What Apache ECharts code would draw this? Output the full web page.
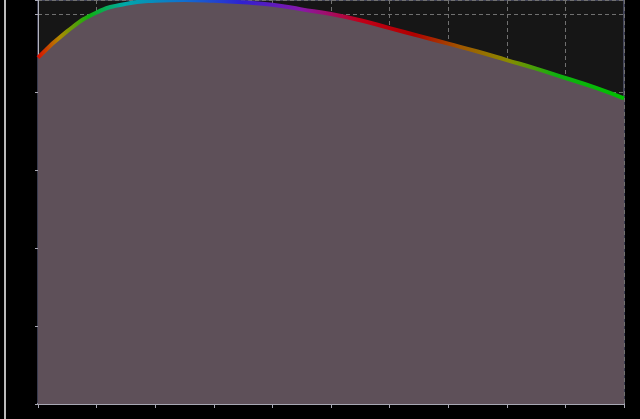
<!DOCTYPE html>
<html>
<head>
<meta charset="utf-8">
<script src="https://cdn.jsdelivr.net/npm/echarts@6/dist/echarts.min.js"></script>
<style>
  html, body {margin: 0; padding: 0; background: #000;}
  #chart {width: 640px; height: 419px;}
</style>
</head>
<body>
<div id="chart"></div>
<script>
const xValues = [0, 5, 10, 15, 20, 25, 30, 35, 40, 45, 50, 55, 60, 65, 70, 75, 80, 85, 90, 95, 100]
const yValues = [22.2, 23.9, 25.1, 25.65, 25.85, 25.9, 25.85, 25.75, 25.6, 25.3, 25.0, 24.6, 24.1, 23.6, 23.1, 22.6, 22.05, 21.5, 20.9, 20.3, 19.6]
// the picture is cut off just above the 25 line
const xTicks = {min: 0, max: 100, interval: 10}
const yTicks = {min: 0, max: 25.9, interval: 5}

const seriesData = xValues.map((x, i) => [x, yValues[i]])

const chart = echarts.init(document.getElementById('chart'))

const rainbow = new echarts.graphic.LinearGradient(0, 0, 1, 0, [
  {offset: 0, color: '#e00000'},
  {offset: 0.04, color: '#b08a00'},
  {offset: 0.09, color: '#10b010'},
  {offset: 0.15, color: '#00a8a8'},
  {offset: 0.25, color: '#1070d0'},
  {offset: 0.35, color: '#3020d0'},
  {offset: 0.45, color: '#8818a8'},
  {offset: 0.55, color: '#c00018'},
  {offset: 0.64, color: '#b00000'},
  {offset: 0.72, color: '#a05800'},
  {offset: 0.8, color: '#8a8a00'},
  {offset: 0.88, color: '#10b010'},
  {offset: 1, color: '#00c000'},
])

chart.setOption({
  backgroundColor: '#000',
  animation: false,
  graphic: [{
    type: 'line',
    shape: {x1: 5, y1: 0, x2: 5, y2: 419},
    style: {stroke: '#bbbbbb', lineWidth: 2},
  }],
  grid: {
    left: 38,
    right: 16,
    top: 0,
    bottom: 15,
    show: true,
    backgroundColor: '#161616',
    borderColor: '#70759a',
    borderWidth: 1,
  },
  xAxis: {
    type: 'value',
    min: xTicks.min,
    max: xTicks.max,
    interval: xTicks.interval,
    axisLine: {show: true, lineStyle: {color: '#a8a8b4', width: 2}},
    axisTick: {show: true, length: 4, lineStyle: {color: '#a8a8b4'}},
    axisLabel: {show: false},
    splitLine: {show: true, lineStyle: {color: '#707070', type: [4, 3]}},
  },
  yAxis: {
    type: 'value',
    min: yTicks.min,
    max: yTicks.max,
    interval: yTicks.interval,
    offset: 2,
    axisLine: {show: true, lineStyle: {color: '#b4b4bc', width: 1}},
    axisTick: {show: true, length: 3, lineStyle: {color: '#a8a8b4'}},
    axisLabel: {show: false},
    splitLine: {show: true, lineStyle: {color: '#707070', type: [4, 3]}},
  },
  series: [{
    type: 'line',
    data: seriesData,
    smooth: true,
    showSymbol: false,
    lineStyle: {width: 4, color: rainbow},
    areaStyle: {color: '#5e5059', opacity: 1},
  }],
})
</script>
</body>
</html>
